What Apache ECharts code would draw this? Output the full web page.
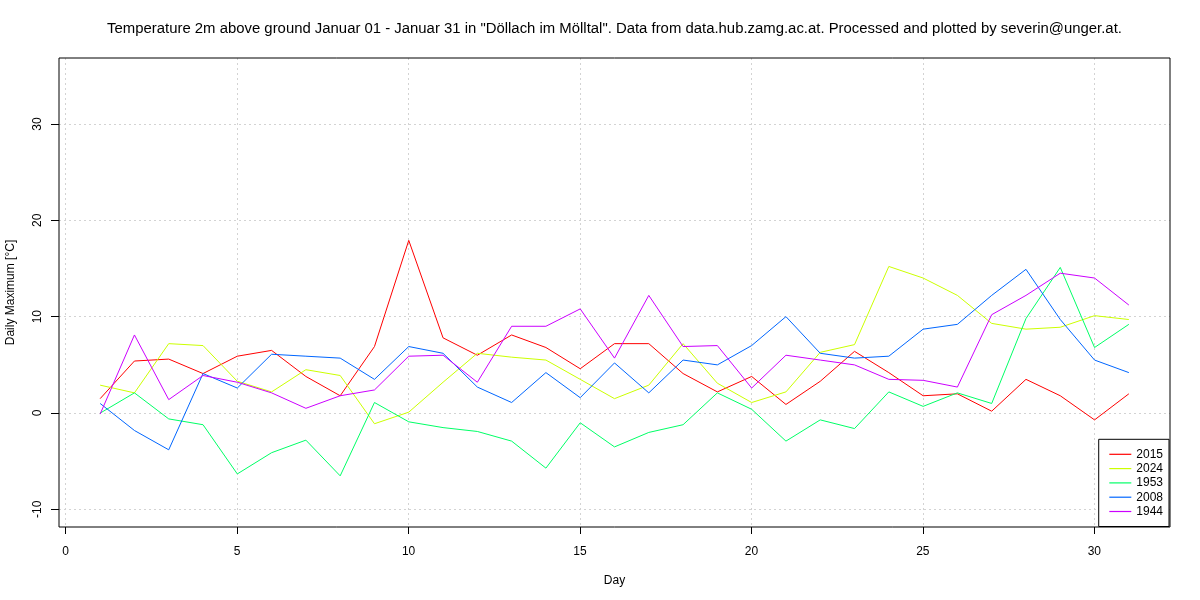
<!DOCTYPE html>
<html>
<head>
<meta charset="utf-8">
<script src="https://cdn.jsdelivr.net/npm/echarts@6/dist/echarts.min.js"></script>
<style>html,body{margin:0;padding:0;background:#fff}#c{width:1200px;height:600px}</style>
</head>
<body>
<div id="c"></div>
<script>
const days = [1,2,3,4,5,6,7,8,9,10,11,12,13,14,15,16,17,18,19,20,21,22,23,24,25,26,27,28,29,30,31];
const seriesNames = ['2015','2024','1953','2008','1944'];
const y2015 = [1.5,5.4,5.6,4.1,5.9,6.5,3.8,1.8,6.9,17.9,7.8,6.0,8.1,6.8,4.6,7.2,7.2,4.1,2.2,3.8,0.9,3.3,6.4,4.2,1.8,2.0,0.2,3.5,1.8,-0.7,2.0];
const y2024 = [2.9,2.1,7.2,7.0,3.3,2.2,4.5,3.9,-1.1,0.1,3.2,6.2,5.8,5.5,3.5,1.5,2.9,7.2,3.1,1.1,2.2,6.3,7.1,15.2,14.0,12.2,9.3,8.7,8.9,10.1,9.7];
const y1953 = [0.0,2.1,-0.6,-1.2,-6.3,-4.1,-2.8,-6.5,1.1,-0.9,-1.5,-1.9,-2.9,-5.7,-1.0,-3.5,-2.0,-1.2,2.1,0.4,-2.9,-0.7,-1.6,2.2,0.7,2.1,1.0,9.8,15.1,6.8,9.2];
const y2008 = [1.0,-1.8,-3.8,4.1,2.6,6.1,5.9,5.7,3.5,6.9,6.2,2.7,1.1,4.2,1.6,5.2,2.1,5.5,5.0,7.0,10.0,6.2,5.7,5.9,8.7,9.2,12.2,14.9,9.7,5.5,4.2];
const y1944 = [-0.1,8.1,1.4,3.9,3.2,2.1,0.5,1.8,2.4,5.9,6.0,3.2,9.0,9.0,10.8,5.7,12.2,6.9,7.0,2.6,6.0,5.5,5.0,3.5,3.4,2.7,10.2,12.2,14.5,14.0,11.2];
const xTicks = [0,5,10,15,20,25,30];
const yTicks = [-10,0,10,20,30];
const titleText = 'Temperature 2m above ground Januar 01 - Januar 31 in "Döllach im Mölltal". Data from data.hub.zamg.ac.at. Processed and plotted by severin@unger.at.';

const colors = ['#FF0000','#CCFF00','#00FF66','#0066FF','#CC00FF'];
const allData = [y2015,y2024,y1953,y2008,y1944];
const FONT = 'Liberation Sans, Arial, Helvetica, sans-serif';

const chart = echarts.init(document.getElementById('c'), null, {renderer:'canvas'});
const option = {
  animation: false,
  backgroundColor: '#fff',
  textStyle: {fontFamily: FONT},
  graphic: [{
    type: 'text', x: 614.5, y: 29, z: 20,
    style: {text: titleText, align: 'center', verticalAlign: 'middle',
      fontFamily: FONT, fontSize: 14.9, fill: '#000'}
  }],
  grid: [
    {left: 59, right: 30, top: 58, bottom: 73, show: true, borderColor: '#000', borderWidth: 1, backgroundColor: 'transparent', z: 5, containLabel: false, outerBoundsMode: 'none'},
    {left: 65.7, right: 105.7, top: 58, bottom: 73, containLabel: false, outerBoundsMode: 'none'},
    {left: 59, right: 30, top: 124, bottom: 90.7, containLabel: false, outerBoundsMode: 'none'}
  ],
  xAxis: [
    {gridIndex: 0, type: 'value', min: -0.2, max: 32.2,
     name: 'Day', nameLocation: 'middle', nameGap: 48,
     nameTextStyle: {fontFamily: FONT, fontSize: 12, color: '#000'},
     axisLine: {show: false, onZero: false}, axisTick: {show: false}, axisLabel: {show: false}, splitLine: {show: false}},
    {gridIndex: 1, type: 'value', min: 0, max: 30, interval: 5, position: 'bottom',
     axisLine: {show: false, onZero: false},
     axisTick: {show: true, inside: false, length: 7, lineStyle: {color: '#000', width: 1}},
     axisLabel: {show: true, margin: 19, fontFamily: FONT, fontSize: 12, color: '#000',
       formatter: v => (xTicks.indexOf(v) >= 0 ? String(v) : '')},
     splitLine: {show: true, lineStyle: {color: '#d3d3d3', type: [2, 3], width: 1}}},
    {gridIndex: 2, type: 'value', min: -0.2, max: 32.2, show: false, axisLine: {onZero: false}}
  ],
  yAxis: [
    {gridIndex: 0, type: 'value', min: -11.8, max: 36.8,
     name: 'Daily Maximum [°C]', nameLocation: 'middle', nameGap: 42,
     nameTextStyle: {fontFamily: FONT, fontSize: 12, color: '#000'},
     axisLine: {show: false, onZero: false}, axisTick: {show: false}, axisLabel: {show: false}, splitLine: {show: false}},
    {gridIndex: 1, type: 'value', min: -11.8, max: 36.8, show: false, axisLine: {onZero: false}},
    {gridIndex: 2, type: 'value', min: -10, max: 30, interval: 10, position: 'left',
     axisLine: {show: false, onZero: false},
     axisTick: {show: true, inside: false, length: 8, lineStyle: {color: '#000', width: 1}},
     axisLabel: {show: true, rotate: 90, margin: 15, fontFamily: FONT, fontSize: 12, color: '#000',
       formatter: v => (yTicks.indexOf(v) >= 0 ? String(v) : '')},
     splitLine: {show: true, lineStyle: {color: '#d3d3d3', type: [2, 3], width: 1}}}
  ],
  legend: {
    orient: 'vertical', right: 31, bottom: 73.5,
    data: seriesNames,
    backgroundColor: '#fff', borderColor: '#000', borderWidth: 1,
    padding: [9, 6, 9, 10], itemWidth: 22, itemHeight: 12, itemGap: 2.3,
    itemStyle: {opacity: 0},
    lineStyle: {width: 1.2},
    textStyle: {fontFamily: FONT, fontSize: 12, color: '#000'},
    z: 10
  },
  series: seriesNames.map((n, i) => ({
    name: n, type: 'line', xAxisIndex: 0, yAxisIndex: 0,
    data: days.map((d, j) => [d, allData[i][j]]),
    symbol: 'none', showSymbol: false,
    lineStyle: {color: colors[i], width: 1},
    itemStyle: {color: colors[i]},
    z: 3
  }))
};
chart.setOption(option);
</script>
</body>
</html>
